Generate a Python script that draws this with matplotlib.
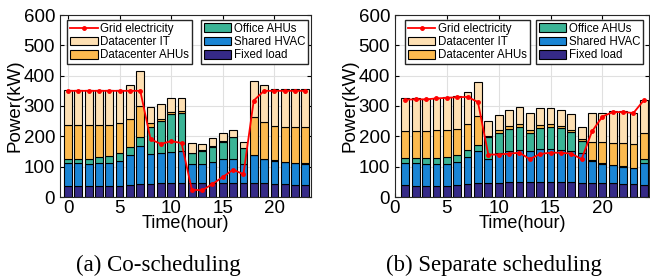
import numpy as np
import matplotlib
matplotlib.use("Agg")
import matplotlib.pyplot as plt
from matplotlib.patches import Patch
from matplotlib.lines import Line2D

plt.rcParams['font.family'] = ['Liberation Sans', 'DejaVu Sans']

# hours
hours_a = np.arange(0, 24)
hours_b = np.arange(1, 25)

# (a) Co-scheduling: top of each stacked layer (kW)
fixed_a = [36, 36, 36, 35, 36, 37, 41, 42, 44, 45, 46, 47, 47, 47, 47, 47, 47, 47, 46, 45, 44, 43, 41, 38]
shared_top_a = [113, 111, 108, 111, 111, 120, 137, 168, 141, 144, 149, 152, 109, 108, 116, 124, 125, 109, 138, 124, 119, 114, 111, 109]
office_top_a = [125, 125, 126, 131, 134, 144, 166, 199, 232, 250, 274, 276, 144, 153, 166, 182, 197, 160, 140, 126, 121, 116, 113, 111]
dcahu_top_a = [236, 236, 237, 237, 238, 243, 258, 301, 243, 256, 281, 285, 145, 154, 168, 184, 199, 161, 263, 246, 235, 232, 231, 231]
total_a = [353, 353, 353, 353, 353, 353, 369, 417, 298, 306, 325, 326, 177, 176, 193, 210, 221, 182, 382, 369, 355, 355, 355, 355]
grid_a = [350, 350, 350, 350, 350, 350, 350, 350, 190, 175, 184, 178, 24, 22, 43, 66, 90, 75, 318, 350, 350, 350, 350, 350]

# (b) Separate scheduling
fixed_b = [38, 37, 37, 37, 37, 41, 42, 45, 45, 47, 48, 48, 48, 48, 48, 48, 48, 47, 46, 45, 45, 44, 42, 38]
shared_top_b = [113, 111, 108, 109, 110, 114, 131, 153, 124, 145, 152, 155, 153, 157, 157, 155, 153, 144, 119, 109, 105, 100, 95, 111]
office_top_b = [130, 130, 127, 130, 133, 137, 155, 171, 197, 212, 224, 230, 210, 228, 230, 227, 215, 184, 121, 111, 106, 101, 96, 125]
dcahu_top_b = [218, 218, 218, 220, 222, 225, 240, 267, 202, 220, 233, 240, 220, 238, 240, 234, 222, 190, 181, 180, 179, 177, 175, 212]
total_b = [325, 325, 324, 327, 330, 332, 347, 379, 250, 269, 287, 296, 277, 295, 295, 287, 272, 232, 278, 278, 283, 283, 278, 321]
grid_b = [321, 322, 322, 325, 327, 329, 330, 313, 140, 140, 143, 146, 125, 142, 146, 146, 143, 125, 216, 265, 280, 280, 277, 319]

names = ['Fixed load', 'Shared HVAC', 'Office AHUs', 'Datacenter AHUs', 'Datacenter IT']
colors = ['#352a87', '#1a85d4', '#3bb496', '#fcba4f', '#fee0b3']


def draw(ax, x, layers, grid, xlim):
    bottom = np.zeros(len(x))
    for top, c in zip(layers, colors):
        top = np.array(top, dtype=float)
        ax.bar(x, top - bottom, bottom=bottom, width=0.75, color=c,
               edgecolor='black', linewidth=0.8, zorder=2)
        bottom = top
    ax.plot(x, grid, color='red', marker='.', markersize=5, linewidth=1.3, zorder=3)

    ax.set_xlim(*xlim)
    ax.set_ylim(0, 600)
    ax.set_xticks([0, 5, 10, 15, 20])
    ax.set_yticks(range(0, 601, 100))
    ax.grid(True, color='#e0e0e0', linewidth=0.8, zorder=0)
    ax.set_axisbelow(True)
    ax.tick_params(direction='in', top=True, right=True, labelsize=13.5, length=3)
    ax.tick_params(axis='x', pad=2)
    ax.tick_params(axis='y', pad=3.5)
    for s in ax.spines.values():
        s.set_color('#262626')
        s.set_linewidth(0.8)
    ax.set_xlabel('Time(hour)', fontsize=13, labelpad=-1)
    ax.set_ylabel('Power(kW)', fontsize=13.5, labelpad=0)

    h1 = [Line2D([], [], color='red', marker='.', markersize=5, linewidth=1.3),
          Patch(facecolor=colors[4], edgecolor='black', linewidth=0.8),
          Patch(facecolor=colors[3], edgecolor='black', linewidth=0.8)]
    h2 = [Patch(facecolor=colors[2], edgecolor='black', linewidth=0.8),
          Patch(facecolor=colors[1], edgecolor='black', linewidth=0.8),
          Patch(facecolor=colors[0], edgecolor='black', linewidth=0.8)]
    kw = dict(fontsize=8.3, fancybox=False, framealpha=1, edgecolor='#262626',
              handlelength=2.4, handleheight=0.8, handletextpad=0.2,
              labelspacing=0.1, borderpad=0.25, borderaxespad=0)
    return h1, h2, kw


fig = plt.figure(figsize=(6.5, 2.79), dpi=100)
ax1 = fig.add_axes([60 / 650, 82 / 279, 251 / 650, 182 / 279])
ax2 = fig.add_axes([395 / 650, 82 / 279, 254 / 650, 182 / 279])

h1, h2, kw = draw(ax1, hours_a, [fixed_a, shared_top_a, office_top_a, dcahu_top_a, total_a], grid_a, (-0.78, 23.55))
leg = ax1.legend(h1, ['Grid electricity', 'Datacenter IT', 'Datacenter AHUs'],
                 loc='upper left', bbox_to_anchor=(0.028, 0.973), **kw)
ax1.add_artist(leg)
ax1.legend(h2, ['Office AHUs', 'Shared HVAC', 'Fixed load'],
           loc='upper right', bbox_to_anchor=(0.988, 0.973), **kw)

h1, h2, kw = draw(ax2, hours_b, [fixed_b, shared_top_b, office_top_b, dcahu_top_b, total_b], grid_b, (0, 24.5))
leg = ax2.legend(h1, ['Grid electricity', 'Datacenter IT', 'Datacenter AHUs'],
                 loc='upper left', bbox_to_anchor=(0.039, 0.973), **kw)
ax2.add_artist(leg)
ax2.legend(h2, ['Office AHUs', 'Shared HVAC', 'Fixed load'],
           loc='upper right', bbox_to_anchor=(0.976, 0.973), **kw)

fig.text(158 / 650, 1 - 265 / 279, '(a) Co-scheduling', family='Liberation Serif',
         fontsize=16.5, ha='center', va='center')
fig.text(494 / 650, 1 - 265 / 279, '(b) Separate scheduling', family='Liberation Serif',
         fontsize=16.5, ha='center', va='center')

fig.savefig('out.png', dpi=100)
